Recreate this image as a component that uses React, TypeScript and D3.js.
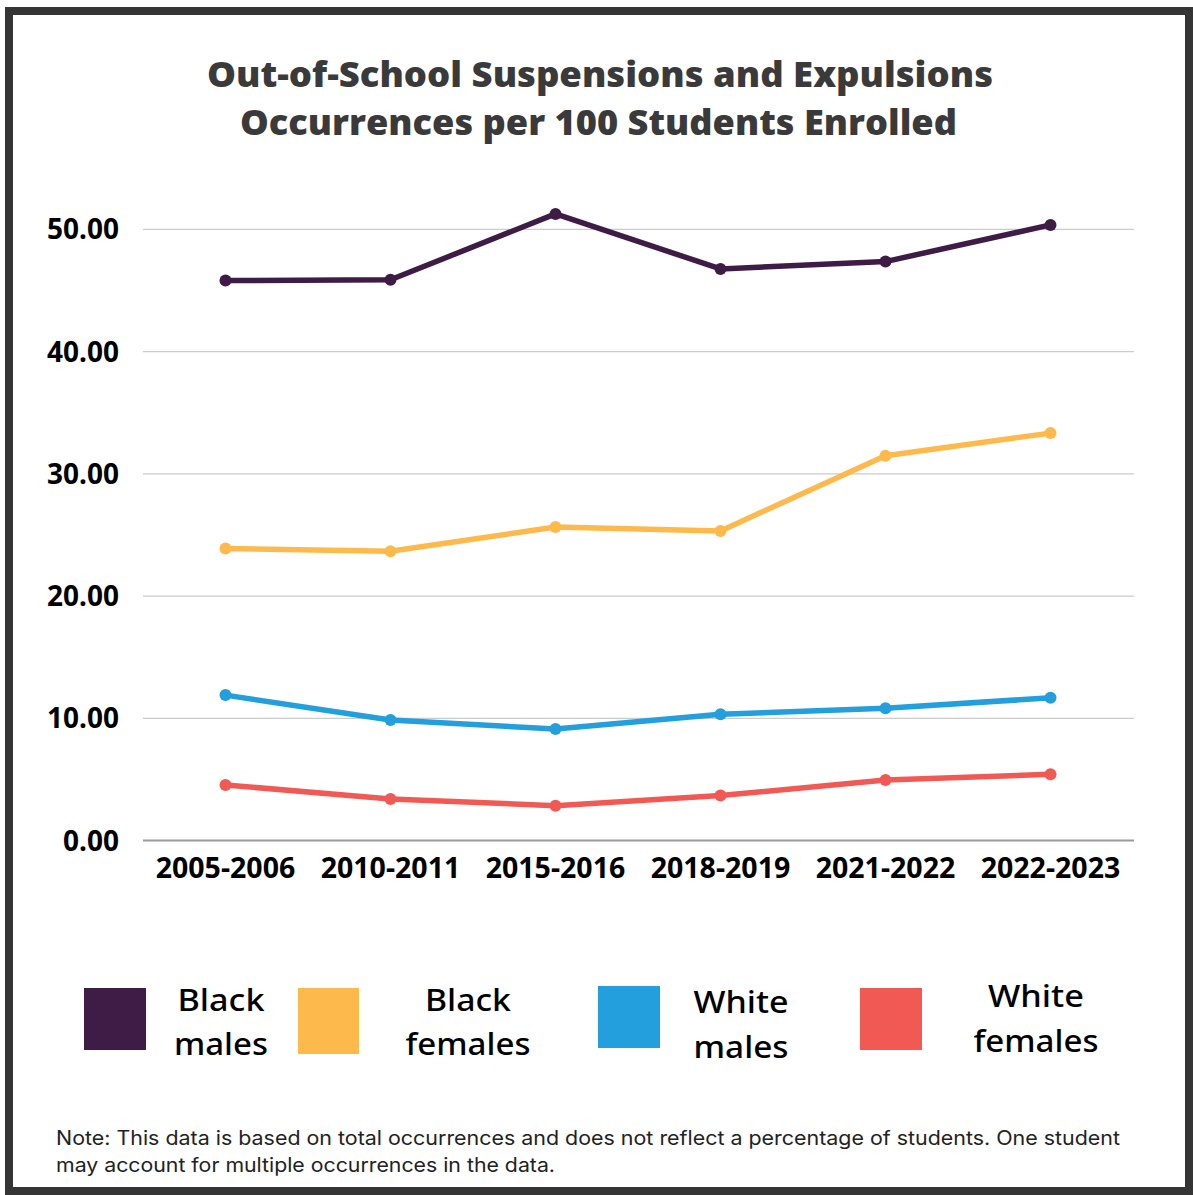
import React from "react";
import * as d3 from "d3";

const categories = ["2005-2006", "2010-2011", "2015-2016", "2018-2019", "2021-2022", "2022-2023"];
const blackMales = [45.81, 45.87, 51.26, 46.76, 47.36, 50.36];
const blackFemales = [23.89, 23.67, 25.65, 25.33, 31.48, 33.33];
const whiteMales = [11.9, 9.86, 9.13, 10.33, 10.82, 11.68];
const whiteFemales = [4.55, 3.41, 2.86, 3.68, 4.96, 5.42];
const yTicks = [0, 10, 20, 30, 40, 50];
const seriesNames = ["Black males", "Black females", "White males", "White females"];
const seriesColors = ["#3f1c46", "#feb94c", "#229fdc", "#f15a54"];
const titleLines = ["Out-of-School Suspensions and Expulsions", "Occurrences per 100 Students Enrolled"];
const noteLines = [
  "Note: This data is based on total occurrences and does not reflect a percentage of students. One student",
  "may account for multiple occurrences in the data.",
];

const W = 1193;
const H = 1195;

export default function App() {
  const x = d3.scaleBand<string>().domain(categories).range([143, 1133]).padding(0);
  const y = d3.scaleLinear().domain([0, 50]).range([840.6, 229.3]);
  const cx = (c: string) => (x(c) as number) + x.bandwidth() / 2;
  const line = d3
    .line<number>()
    .x((_, i) => cx(categories[i]))
    .y((v) => y(v));
  const series = [blackMales, blackFemales, whiteMales, whiteFemales];

  // legend layout (positions only)
  const legend = [
    { sx: 84, sy: 988, sw: 62, sh: 62, tx: 221, b1: 1011, b2: 1055, w1: 87, w2: 94 },
    { sx: 298, sy: 988, sw: 61, sh: 66, tx: 468, b1: 1011, b2: 1055, w1: 86, w2: 125 },
    { sx: 598, sy: 986, sw: 62, sh: 62, tx: 741, b1: 1013, b2: 1058, w1: 95, w2: 95 },
    { sx: 860, sy: 988, sw: 62, sh: 62, tx: 1036, b1: 1007, b2: 1052, w1: 96, w2: 125 },
  ];

  return (
    <svg
      width={W}
      height={H}
      style={{ position: "absolute", left: 0, top: 0, background: "#fff" }}
    >
      <rect x={0} y={0} width={W} height={H} fill="#fff" />
      <rect x={9} y={11} width={1180} height={1180} fill="none" stroke="#353535" strokeWidth={8} />

      {titleLines.map((t, i) => (
        <text
          key={i}
          x={i === 0 ? 600 : 598.5}
          y={i === 0 ? 87 : 135}
          textAnchor="middle"
          fontFamily="'Open Sans', 'Noto Sans', sans-serif"
          fontWeight={800}
          fontSize={35}
          fill="#3a3a3a"
          textLength={i === 0 ? 786 : 717}
          lengthAdjust="spacingAndGlyphs"
        >
          {t}
        </text>
      ))}

      {yTicks.map((t) => (
        <g key={t}>
          <line
            x1={143}
            x2={1134}
            y1={y(t)}
            y2={y(t)}
            stroke={t === 0 ? "#9a9a9a" : "#cccccc"}
            strokeWidth={t === 0 ? 2 : 1.3}
          />
          <text
            x={119}
            y={y(t)}
            dy="0.36em"
            textAnchor="end"
            fontFamily="'Noto Sans', 'Open Sans', sans-serif"
            fontWeight={700}
            fontSize={28}
            fill="#000"
          >
            {t.toFixed(2)}
          </text>
        </g>
      ))}

      {categories.map((c) => (
        <text
          key={c}
          x={cx(c)}
          y={878}
          textAnchor="middle"
          fontFamily="'Noto Sans', 'Open Sans', sans-serif"
          fontWeight={700}
          fontSize={28.5}
          fill="#000"
        >
          {c}
        </text>
      ))}

      {series.map((vals, si) => (
        <g key={si}>
          <path d={line(vals) || ""} fill="none" stroke={seriesColors[si]} strokeWidth={5.5} strokeLinejoin="round" />
          {vals.map((v, i) => (
            <circle key={i} cx={cx(categories[i])} cy={y(v)} r={6} fill={seriesColors[si]} />
          ))}
        </g>
      ))}

      {seriesNames.map((name, i) => {
        const L = legend[i];
        const [w1, w2] = name.split(" ");
        return (
          <g key={name}>
            <rect x={L.sx} y={L.sy} width={L.sw} height={L.sh} fill={seriesColors[i]} />
            <text
              x={L.tx}
              y={L.b1}
              textAnchor="middle"
              fontFamily="'Noto Sans', 'Open Sans', sans-serif"
              fontWeight={500}
              fontSize={31}
              fill="#000"
              textLength={L.w1}
              lengthAdjust="spacingAndGlyphs"
            >
              {w1}
            </text>
            <text
              x={L.tx}
              y={L.b2}
              textAnchor="middle"
              fontFamily="'Noto Sans', 'Open Sans', sans-serif"
              fontWeight={500}
              fontSize={31}
              fill="#000"
              textLength={L.w2}
              lengthAdjust="spacingAndGlyphs"
            >
              {w2}
            </text>
          </g>
        );
      })}

      {noteLines.map((t, i) => (
        <text
          key={i}
          x={56}
          y={i === 0 ? 1145 : 1172}
          fontFamily="Inter, 'Noto Sans', sans-serif"
          fontSize={19.5}
          fill="#222"
          textLength={i === 0 ? 1064 : 499}
          lengthAdjust="spacingAndGlyphs"
        >
          {t}
        </text>
      ))}
    </svg>
  );
}
